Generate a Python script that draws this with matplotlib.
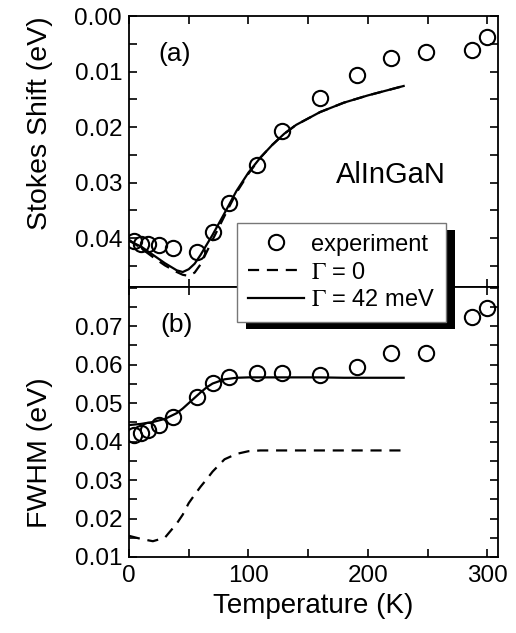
import matplotlib
matplotlib.use("Agg")
import matplotlib.pyplot as plt
from matplotlib.ticker import MultipleLocator, FixedLocator, FormatStrFormatter
from matplotlib.patches import Rectangle
from matplotlib.lines import Line2D

plt.rcParams['font.family'] = ['Liberation Sans', 'DejaVu Sans']
plt.rcParams['mathtext.fontset'] = 'stix'

# ---- data ----
T_exp = [4, 10, 16, 25, 37, 57, 70, 84, 107, 128, 160, 191, 219, 249, 287, 300]
stokes_exp = [0.0406, 0.0410, 0.0410, 0.0412, 0.0418, 0.0425, 0.0389, 0.0337, 0.0268,
              0.0207, 0.0148, 0.0106, 0.0076, 0.0065, 0.0061, 0.0038]
fwhm_exp = [0.0418, 0.0423, 0.0431, 0.0442, 0.0465, 0.0517, 0.0553, 0.0569, 0.0579,
            0.0579, 0.0574, 0.0595, 0.0631, 0.0631, 0.0725, 0.0748]

T_fit = [0, 10, 20, 30, 40, 45, 50, 55, 60, 65, 70, 80, 90, 100, 110, 120, 130, 140,
         160, 180, 200, 230]
stokes_g42 = [0.0405, 0.0415, 0.0430, 0.0445, 0.0458, 0.0461, 0.0456, 0.0446, 0.0430,
              0.0412, 0.0394, 0.0355, 0.0315, 0.0282, 0.0255, 0.0232, 0.0212, 0.0196,
              0.0173, 0.0156, 0.0143, 0.0126]
stokes_g0 = [0.0403, 0.0418, 0.0434, 0.0449, 0.0461, 0.0466, 0.0468, 0.0462, 0.0447,
             0.0425, 0.0403, 0.0360, 0.0318, 0.0284, 0.0255, 0.0232, 0.0212, 0.0196,
             0.0173, 0.0156, 0.0143, 0.0126]
fwhm_g42 = [0.0443, 0.0446, 0.0451, 0.0459, 0.0474, 0.0486, 0.0500, 0.0514, 0.0528,
            0.0541, 0.0551, 0.0562, 0.0566, 0.0567, 0.0567, 0.0567, 0.0567, 0.0567,
            0.0567, 0.0566, 0.0566, 0.0566]
fwhm_g0 = [0.0155, 0.0147, 0.0141, 0.0150, 0.0187, 0.0210, 0.0240, 0.0262, 0.0283,
           0.0302, 0.0322, 0.0354, 0.0368, 0.0375, 0.0377, 0.0377, 0.0377, 0.0377,
           0.0377, 0.0377, 0.0377, 0.0377]

x_ticks = [0, 100, 200, 300]
stokes_ticks = [0.00, 0.01, 0.02, 0.03, 0.04]
fwhm_ticks = [0.01, 0.02, 0.03, 0.04, 0.05, 0.06, 0.07]
labels = ['experiment', r'$\Gamma$ = 0', r'$\Gamma$ = 42 meV']

# ---- figure ----
fig = plt.figure(figsize=(5.16, 6.33), dpi=100)
ax1 = fig.add_axes([0.25, 0.5466, 0.7151, 0.4281])
ax2 = fig.add_axes([0.25, 0.1201, 0.7151, 0.4265])

mk = dict(marker='o', ms=11, mfc='none', mec='black', mew=1.5, ls='none')
dash = dict(color='black', lw=1.6, dashes=(5, 3.5))
solid = dict(color='black', lw=1.6)

ax1.plot(T_fit, stokes_g0, **dash)
ax1.plot(T_fit, stokes_g42, **solid)
ax1.plot(T_exp, stokes_exp, **mk)
ax2.plot(T_fit, fwhm_g0, **dash)
ax2.plot(T_fit, fwhm_g42, **solid)
ax2.plot(T_exp, fwhm_exp, **mk)

ax1.set_ylim(0.0488, 0.0)
ax2.set_ylim(0.01, 0.0802)
ax1.yaxis.set_major_locator(FixedLocator(stokes_ticks))
ax2.yaxis.set_major_locator(FixedLocator(fwhm_ticks))

for ax in (ax1, ax2):
    ax.set_xlim(0, 309)
    ax.set_xticks(x_ticks)
    ax.xaxis.set_minor_locator(MultipleLocator(50))
    ax.yaxis.set_minor_locator(MultipleLocator(0.005))
    ax.yaxis.set_major_formatter(FormatStrFormatter('%.2f'))
    ax.tick_params(which='both', direction='in', top=True, right=True,
                   length=6, width=1.2, labelsize=17.5)
    ax.tick_params(axis='y', pad=5)
    ax.tick_params(axis='x', pad=6)
    for s in ax.spines.values():
        s.set_linewidth(1.3)

ax1.tick_params(axis='x', labelbottom=False)

ax1.set_ylabel('Stokes Shift (eV)', fontsize=20.5)
ax2.set_ylabel('FWHM (eV)', fontsize=20.5)
ax1.yaxis.set_label_coords(-0.205, 0.605)
ax2.yaxis.set_label_coords(-0.205, 0.385)
ax2.set_xlabel('Temperature (K)', fontsize=20, labelpad=4)

ax1.text(0.125, 0.86, '(a)', transform=ax1.transAxes, fontsize=19,
         ha='center', va='center')
ax2.text(0.13, 0.86, '(b)', transform=ax2.transAxes, fontsize=19,
         ha='center', va='center')
ax1.text(0.71, 0.413, 'AlInGaN', transform=ax1.transAxes, fontsize=21,
         ha='center', va='center')

handles = [Line2D([], [], **mk), Line2D([], [], **dash), Line2D([], [], **solid)]
leg = fig.legend(handles, labels, loc='upper left',
                 bbox_to_anchor=(237 / 516, 1 - 223 / 633),
                 fontsize=17, frameon=True, fancybox=False, framealpha=1,
                 edgecolor='#777777', handlelength=2.4, handletextpad=0.3,
                 labelspacing=0.25, borderpad=0.45, borderaxespad=0)
leg.get_frame().set_linewidth(1.0)
leg.set_zorder(10)

fig.canvas.draw()
bb = leg.get_window_extent()
W, H = fig.bbox.width, fig.bbox.height
shadow = Rectangle(((bb.x0 + 9) / W, (bb.y0 - 7) / H), bb.width / W, bb.height / H,
                   transform=fig.transFigure, facecolor='black', edgecolor='none',
                   zorder=9)
fig.patches.append(shadow)

fig.savefig('out.png', dpi=100)
